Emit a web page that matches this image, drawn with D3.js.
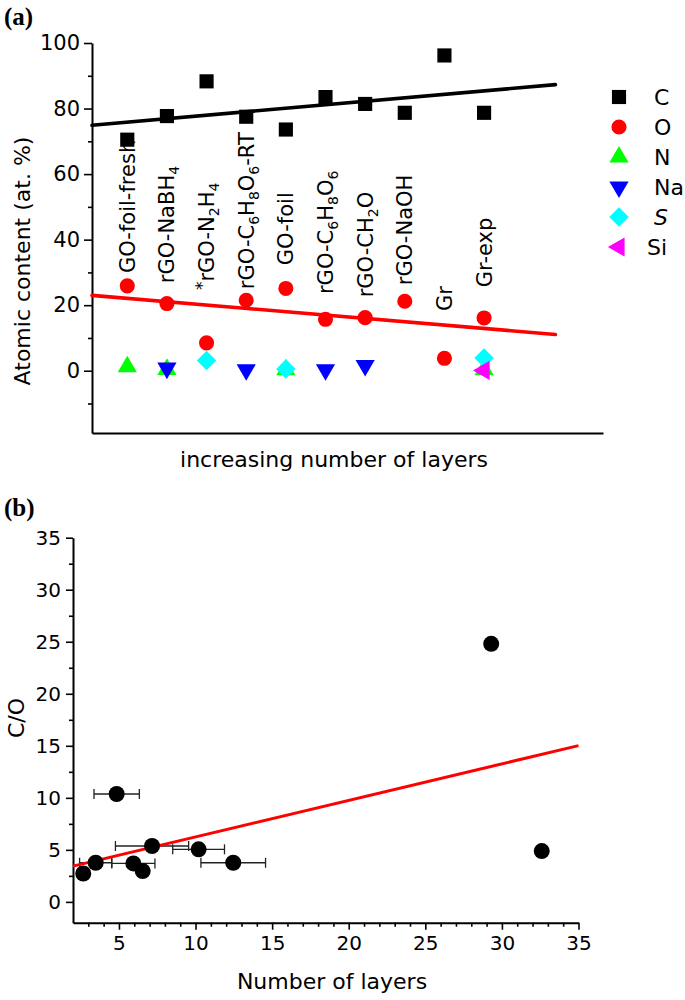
<!DOCTYPE html>
<html><head><meta charset="utf-8">
<script src="https://cdn.jsdelivr.net/npm/d3@7"></script>
<style>body{margin:0;background:#fff}svg{display:block}text{font-family:"DejaVu Sans",sans-serif}</style>
</head><body><svg id="c" width="685" height="1000"></svg>
<script>
// ---------- DATA: panel (a) ----------
const categories = ["GO-foil-fresh","rGO-NaBH4","*rGO-N2H4","rGO-C6H8O6-RT","GO-foil","rGO-C6H8O6","rGO-CH2O","rGO-NaOH","Gr","Gr-exp"];
const carbon   = [70.5, 77.7, 88.3, 77.5, 73.6, 83.5, 81.4, 78.7, 96.2, 78.7];
const oxygen   = [25.9, 20.5, 8.5, 21.5, 25.1, 15.7, 16.2, 21.2, 3.8, 16.1];
const nitrogen = [1.2, 0.4, null, null, 0.3, null, null, null, null, 0.3];
const sodium   = [null, 0.8, null, 0.3, null, 0.3, 1.6, null, null, null];
const sulfur   = [null, null, 3.1, null, 0.5, null, null, null, null, 3.9];
const silicon  = [null, null, null, null, null, null, null, null, null, 0.1];
const elements = ["C","O","N","Na","S","Si"];
// label start positions along y (data units, at. %)
const labelAnchor = [29.8, 26.7, 24.6, 24.9, 32.2, 23.4, 22.4, 26.1, 18.2, 25.5];
// linear fits (x in category index units, y in at. %)
const fitCarbonX = [0.11, 11.8], fitCarbonY = [74.9, 87.3];
const fitOxygenX = [0.11, 11.8], fitOxygenY = [23.0, 11.05];
const yTicksA = [0, 20, 40, 60, 80, 100];
const yMinorA = [-10, 10, 30, 50, 70, 90];

// ---------- DATA: panel (b) ----------
const layers    = [2.67, 3.48, 4.85, 5.94, 6.55, 7.16, 10.2, 12.46, 29.3, 32.6];
const layersErr = [0, 1.05, 1.48, 1.41, 0, 2.39, 1.69, 2.11, 0, 0];
const ratioCO   = [2.73, 3.76, 10.37, 3.70, 2.96, 5.37, 5.05, 3.76, 24.8, 4.88];
const fitCOX = [2, 35], fitCOY = [3.44, 15.02];
const xTicksB = [5, 10, 15, 20, 25, 30, 35];
const yTicksB = [0, 5, 10, 15, 20, 25, 30, 35];

// ---------- DRAW ----------
const svg = d3.select("#c");

// Panel (a)
const xA = d3.scaleLinear().domain([0.11, 13]).range([92, 603]);
const yA = d3.scaleLinear().domain([-19, 100]).range([433, 43]);
const gA = svg.append("g");

function styleAxis(g){
  g.selectAll("path.domain").attr("stroke","#000").attr("stroke-width",2);
  g.selectAll(".tick line").attr("stroke","#000").attr("stroke-width",1.6);
  g.selectAll(".tick text").attr("fill","#000").style("font-family","DejaVu Sans");
}
// minor ticks
gA.append("g").attr("transform","translate(92,0)")
  .call(d3.axisLeft(yA).tickValues(yMinorA).tickSize(4).tickFormat(""))
  .call(g=>{g.select("path.domain").remove();styleAxis(g);});
gA.append("g").attr("transform","translate(92,0)")
  .call(d3.axisLeft(yA).tickValues(yTicksA).tickSize(8).tickSizeOuter(0).tickPadding(4))
  .call(g=>{styleAxis(g);g.selectAll(".tick text").style("font-size","21px");});
gA.append("g").attr("transform","translate(0,433)")
  .call(d3.axisBottom(xA).tickValues([]).tickSizeOuter(0))
  .call(styleAxis);

// category labels
categories.forEach((cat,i)=>{
  const t = gA.append("text")
    .attr("transform",`translate(${xA(i+1)+7.5},${yA(labelAnchor[i])}) rotate(-90)`)
    .style("font-size","21px").attr("fill","#000");
  let shift = 0;
  const chars = cat.split("");
  chars.forEach((ch,k)=>{
    let type = "n";
    if (ch==="*" && k===0) type="sup";
    else if (/\d/.test(ch) && k>0 && /[A-Za-z]/.test(chars[k-1])) type="sub";
    const target = type==="sub"?5:type==="sup"?-6:0;
    t.append("tspan").attr("dy",target-shift)
      .style("font-size", type==="n"?"21px":(type==="sub"?"14px":"17px"))
      .text(ch);
    shift = target;
  });
});

// fit lines
const lineA = d3.line().x(d=>xA(d[0])).y(d=>yA(d[1]));
gA.append("path").datum(d3.zip(fitCarbonX,fitCarbonY)).attr("d",lineA)
  .attr("stroke","#000").attr("stroke-width",3.6).attr("fill","none").attr("stroke-linecap","round");
gA.append("path").datum(d3.zip(fitOxygenX,fitOxygenY)).attr("d",lineA)
  .attr("stroke","#ff0000").attr("stroke-width",3.6).attr("fill","none").attr("stroke-linecap","round");

// symbols
const sym = {
  C:  {type:d3.symbolSquare,  size:200, rot:0,   color:"#000000", vals:carbon},
  O:  {type:d3.symbolCircle,  size:180, rot:0,   color:"#ff0000", vals:oxygen},
  N:  {type:d3.symbolTriangle,size:160, rot:0,   color:"#00ff00", vals:nitrogen},
  Na: {type:d3.symbolTriangle,size:160, rot:180, color:"#0000ff", vals:sodium},
  S:  {type:d3.symbolSquare,  size:190, rot:45,  color:"#00ffff", vals:sulfur},
  Si: {type:d3.symbolTriangle,size:160, rot:-90, color:"#ff00ff", vals:silicon}
};
elements.forEach(el=>{
  const s = sym[el];
  const pts = s.vals.map((v,i)=>({i,v})).filter(d=>d.v!==null);
  gA.selectAll(null).data(pts).enter().append("path")
    .attr("d", d3.symbol().type(s.type).size(s.size)())
    .attr("transform", d=>`translate(${xA(d.i+1)},${yA(d.v)}) rotate(${s.rot})`)
    .attr("fill", s.color);
});

// legend
const leg = gA.append("g");
elements.forEach((el,k)=>{
  const s = sym[el]; const yy = 97 + 30*k;
  leg.append("path").attr("d", d3.symbol().type(s.type).size(s.size)())
    .attr("transform",`translate(619,${yy}) rotate(${s.rot})`).attr("fill",s.color);
  leg.append("text").attr("x", el==="Si"?647:654).attr("y",yy).attr("dy","0.36em")
    .style("font-size","22px").style("font-style", el==="S"?"italic":"normal").text(el);
});

// axis titles (a)
gA.append("text").attr("transform","translate(30,261) rotate(-90)").attr("text-anchor","middle")
  .style("font-size","22px").text("Atomic content (at. %)");
gA.append("text").attr("x",334).attr("y",467).attr("text-anchor","middle")
  .style("font-size","22px").text("increasing number of layers");
svg.append("text").attr("x",4).attr("y",25).style("font-family","Liberation Serif")
  .style("font-weight","bold").style("font-size","25px").text("(a)");

// Panel (b)
const xB = d3.scaleLinear().domain([2,35]).range([73,578.5]);
const yB = d3.scaleLinear().domain([-2,35]).range([922.7,537.7]);
const gB = svg.append("g");
gB.append("g").attr("transform","translate(73,0)")
  .call(d3.axisLeft(yB).tickValues(d3.range(-2.5,35,2.5).filter(v=>v>=-2 && v%5!==0)).tickSize(4).tickFormat(""))
  .call(g=>{g.select("path.domain").remove();styleAxis(g);});
gB.append("g").attr("transform","translate(73,0)")
  .call(d3.axisLeft(yB).tickValues(yTicksB).tickSize(7).tickSizeOuter(0).tickPadding(5))
  .call(g=>{styleAxis(g);g.selectAll(".tick text").style("font-size","20px");});
gB.append("g").attr("transform","translate(0,922.7)")
  .call(d3.axisBottom(xB).tickValues(d3.range(3,35,1).filter(v=>v%5!==0)).tickSize(4).tickFormat(""))
  .call(g=>{g.select("path.domain").remove();styleAxis(g);});
gB.append("g").attr("transform","translate(0,922.7)")
  .call(d3.axisBottom(xB).tickValues(xTicksB).tickSize(7).tickSizeOuter(0).tickPadding(6))
  .call(g=>{styleAxis(g);g.selectAll(".tick text").style("font-size","20px");});

const ptsB = layers.map((x,i)=>({x, y:ratioCO[i], e:layersErr[i]}));
// error bars
const eb = gB.append("g").attr("stroke","#222").attr("stroke-width",1.3);
ptsB.filter(d=>d.e>0).forEach(d=>{
  const y = yB(d.y), x0 = Math.max(xB(d.x-d.e), 73), x1 = xB(d.x+d.e);
  eb.append("line").attr("x1",x0).attr("x2",x1).attr("y1",y).attr("y2",y);
  [xB(d.x-d.e), x1].forEach(xx=>{ if (xx>=73) eb.append("line").attr("x1",xx).attr("x2",xx).attr("y1",y-5).attr("y2",y+5); });
});
// fit line
gB.append("path").datum(d3.zip(fitCOX,fitCOY))
  .attr("d", d3.line().x(d=>xB(d[0])).y(d=>yB(d[1])))
  .attr("stroke","#ff0000").attr("stroke-width",3).attr("fill","none");
gB.selectAll(null).data(ptsB).enter().append("circle")
  .attr("cx",d=>xB(d.x)).attr("cy",d=>yB(d.y)).attr("r",8).attr("fill","#000");

gB.append("text").attr("transform","translate(24,718) rotate(-90)").attr("text-anchor","middle")
  .style("font-size","22px").text("C/O");
gB.append("text").attr("x",332).attr("y",989).attr("text-anchor","middle")
  .style("font-size","22px").text("Number of layers");
svg.append("text").attr("x",4).attr("y",516).style("font-family","Liberation Serif")
  .style("font-weight","bold").style("font-size","25px").text("(b)");
</script></body></html>
